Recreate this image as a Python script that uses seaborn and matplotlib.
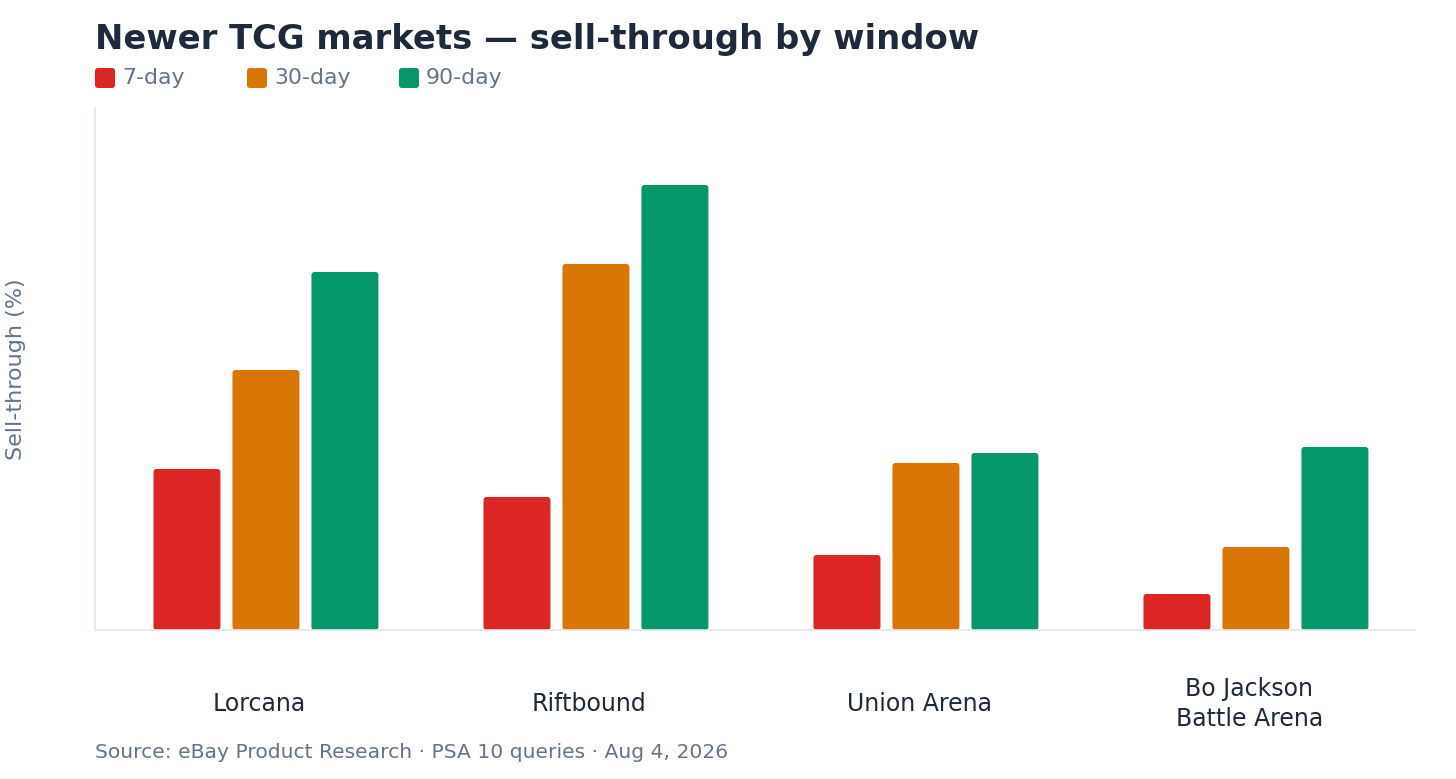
import numpy as np
import pandas as pd
import matplotlib
matplotlib.use('Agg')
import matplotlib.pyplot as plt
from matplotlib.patches import FancyBboxPatch
import seaborn as sns

# ─── Data ──────────────────────────────────────────────────────
markets = ['Lorcana', 'Riftbound', 'Union Arena', 'Bo Jackson\nBattle Arena']
windows = ['7-day', '30-day', '90-day']
day7 = [16.1, 13.3, 7.5, 3.6]
day30 = [26.0, 36.6, 16.7, 8.3]
day90 = [35.8, 44.5, 17.7, 18.3]
colors = ['#dc2626', '#d97706', '#059669']

df = pd.DataFrame({
    'market': markets * 3,
    'window': np.repeat(windows, len(markets)),
    'value': day7 + day30 + day90,
})

# ─── Style ─────────────────────────────────────────────────────
sns.set_style('white')
plt.rcParams['font.family'] = ['DejaVu Sans']
dark = '#1e293b'
gray = '#64748b'
line = '#e2e8f0'

W, H = 1456, 779
fig = plt.figure(figsize=(W / 100, H / 100), dpi=100)
ax = fig.add_axes([95 / W, 1 - 630 / H, 1320 / W, 522 / H])

sns.barplot(data=df, x='market', y='value', hue='window', order=markets,
            hue_order=windows, palette=colors, width=0.718, gap=0.152,
            saturation=1, legend=False, ax=ax)

ax.set_xlim(-0.518, 3.482)
ax.set_ylim(0, 52.2)

# rounded corners on the bars
r_x = 3 / 330
aspect = (3 / 522 * 52.2) / r_x
for p in list(ax.patches):
    x0, y0 = p.get_x(), p.get_y()
    w, h = p.get_width(), p.get_height()
    fb = FancyBboxPatch((x0, y0), w, h,
                        boxstyle=f'round,pad=0,rounding_size={r_x}',
                        mutation_aspect=aspect, facecolor=p.get_facecolor(),
                        edgecolor='none', zorder=2)
    p.remove()
    ax.add_patch(fb)

# ─── Axes ──────────────────────────────────────────────────────
for s in ['top', 'right']:
    ax.spines[s].set_visible(False)
for s in ['left', 'bottom']:
    ax.spines[s].set_color(line)
    ax.spines[s].set_linewidth(1.2)
ax.set_yticks([])
ax.set_xticks(np.arange(len(markets)) - 0.02)
ax.set_xticklabels(markets, fontsize=17, color=dark, linespacing=1.3)
for t in ax.get_xticklabels():
    t.set_va('center')
ax.tick_params(axis='x', length=0, pad=53.5)
ax.set_xlabel('')
ax.set_ylabel('Sell-through (%)', fontsize=16, color=gray, labelpad=50)

# ─── Title / legend / source ───────────────────────────────────
fig.text(95 / W, 1 - 40 / H, 'Newer TCG markets — sell-through by window',
         fontsize=24.4, fontweight='bold', color=dark, va='center', ha='left')

for i, (name, c) in enumerate(zip(windows, colors)):
    x = 95 + i * 152
    fig.patches.append(FancyBboxPatch(
        (x / W, 1 - 88 / H), 20 / W, 20 / H,
        boxstyle=f'round,pad=0,rounding_size={3 / W}',
        mutation_aspect=W / H, facecolor=c, edgecolor='none',
        transform=fig.transFigure, figure=fig))
    fig.text((x + 27) / W, 1 - 78 / H, name, fontsize=15.8, color=gray,
             va='center', ha='left')

fig.text(95 / W, 1 - 752 / H,
         'Source: eBay Product Research · PSA 10 queries · Aug 4, 2026',
         fontsize=14.6, color=gray, va='center', ha='left')

fig.savefig('out.png', dpi=100)
